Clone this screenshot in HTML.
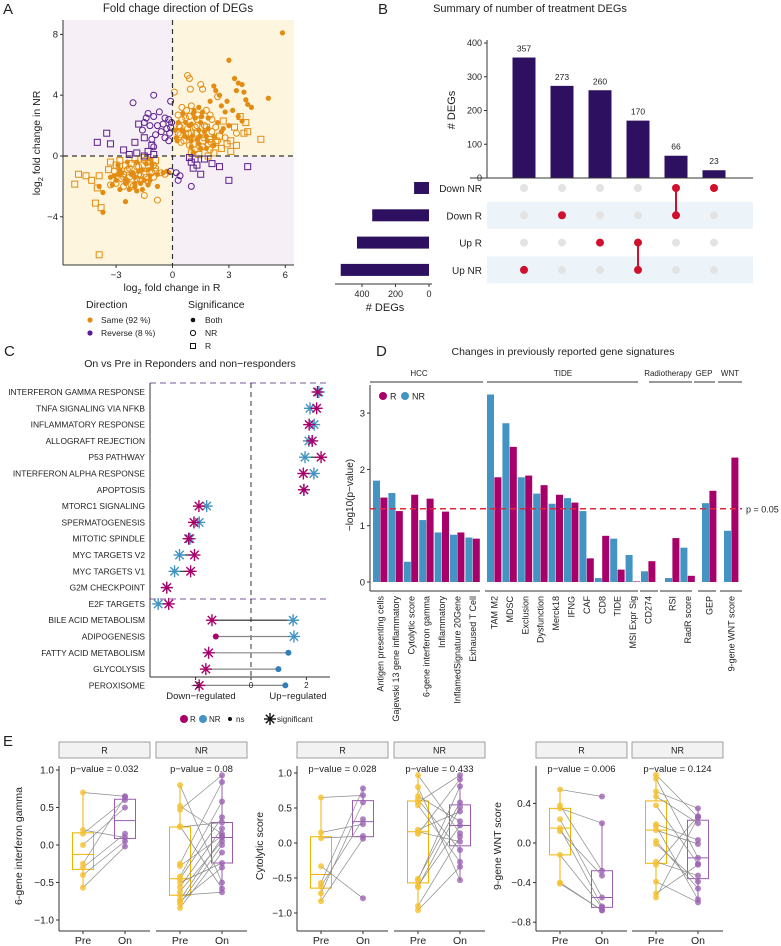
<!DOCTYPE html>
<html><head><meta charset="utf-8">
<style>
body{margin:0;background:#fff;}
svg{display:block;font-family:"Liberation Sans",Arial,sans-serif;}
text{fill:#222;}
</style></head>
<body>
<svg id="root" width="781" height="946" viewBox="0 0 781 946" xmlns="http://www.w3.org/2000/svg"></svg>
<script>
// ---------------- DATA ----------------
const sameFilled = "5.85,8.1;3.0,6.3;5.1,3.8;3.3,5.1;3.5,4.8;3.7,4.7;3.4,4.3;3.8,4.2;4.0,3.4;4.2,3.2;3.9,3.7;2.9,3.6;2.2,4.6;2.3,4.3;2.5,4.0;2.0,3.6;2.6,3.3;3.2,3.0;3.7,2.3;3.5,2.6;2.8,2.9;1.4,3.2;1.6,2.9;1.9,2.5;2.4,2.2;2.7,1.8;3.0,2.0;1.2,2.5;0.9,2.0;0.5,1.7;1.7,1.6;2.2,1.3;1.3,1.1;0.8,1.2;1.5,0.5;1.1,0.2;-3.7,-3.7;-2.5,-3.0;-3.7,-2.4;-3.9,-2.0;-3.2,-1.9;-2.8,-2.2;-2.3,-2.2;-1.9,-2.3;-1.6,-2.2;-0.8,-2.0;-1.5,-1.6;-2.0,-1.8;-2.5,-1.5;-3.0,-1.6;-1.2,-1.3;-0.5,-1.1;-0.2,-1.1;-2.2,-1.2;-1.8,-1.0;-1.1,-0.8;-1.4,-0.5;-2.7,-1.1;-3.3,-1.4;0.2,1.2;0.6,1.6;1.0,2.1;1.4,1.7;1.8,1.3;0.3,2.2;0.7,2.2;1.1,2.8;1.5,2.2;1.9,1.8;0.25,1.0;0.65,1.3;1.05,1.3;1.45,1.3;1.85,1.0;1.0,0.6;1.4,0.8;1.8,0.5;2.2,0.7;2.6,1.6;1.0,1.0;0.15,1.7;0.55,2.8;1.15,3.0;1.55,2.6;-2.9,-1.2;-2.5,-1.8;-2.1,-1.1;-1.7,-1.8;-1.3,-0.9;-2.8,-0.9;-2.4,-1.6;-2.0,-1.4;-1.6,-0.9;-1.2,-1.6;-3.1,-1.3;-2.9,-0.6;-1.9,-0.4;-1.2,-0.2;-0.8,-1.2;-0.3,-1.0;-2.0,-2.0;-1.3,-1.9;-2.4,-0.4;-1.1,-0.5";
const sameOpen = "0.8,5.3;0.9,5.1;1.5,4.7;0.95,4.4;1.6,4.4;0.1,4.2;2.4,3.9;0.5,3.2;1.0,3.3;1.8,3.0;0.3,2.7;0.7,2.5;1.3,2.0;2.1,2.4;3.4,1.5;2.8,1.2;0.3,1.5;0.6,1.0;1.9,0.8;0.4,1.9;-1.5,-2.6;-0.8,-2.9;-2.1,-2.0;-1.3,-1.7;-2.6,-1.4;-1.7,-1.3;-0.9,-1.0;-0.4,-1.2;-1.9,-0.7;-3.1,-1.0;-2.4,-0.9;0.4,1.4;0.8,1.8;1.2,1.9;1.6,1.5;2.0,1.1;0.5,2.4;0.9,2.6;1.3,2.4;1.7,2.0;2.1,1.6;0.45,0.9;0.85,1.5;1.25,1.5;1.65,1.2;2.05,0.9;1.2,0.4;1.6,0.6;2.0,0.4;2.4,1.0;2.3,1.9;0.9,0.7;0.35,2.0;0.75,3.0;1.35,2.7;2.0,2.7;-2.7,-1.5;-2.3,-1.4;-1.9,-1.5;-1.5,-1.2;-1.1,-1.1;-2.6,-1.2;-2.2,-1.9;-1.8,-1.2;-1.4,-1.4;-1.0,-1.4;-3.0,-1.8;-2.3,-0.8;-1.5,-0.3;-1.0,-0.6;-0.6,-1.1;-2.6,-2.0;-1.7,-1.6;-3.3,-1.9;-1.8,-0.7;-0.9,-0.8";
const sameSquare = "-5.2,-1.85;-4.0,-2.1;-4.1,-3.1;-3.8,-3.4;-3.9,-6.5;-5.0,-1.2;-4.6,-1.3;-4.3,-1.6;-3.9,-1.3;-3.3,-0.4;-3.0,-0.6;-3.4,-0.9;-2.8,-0.3;-2.5,-0.6;-2.0,-0.2;-1.5,-0.1;-1.2,-0.4;-2.2,-0.5;-0.9,-0.3;-1.6,-0.6;4.7,1.1;3.8,1.5;3.9,2.2;3.6,2.6;4.0,1.6;3.1,1.0;3.4,0.7;3.1,0.3;2.6,0.5;2.2,0.2;1.9,0.0;1.4,0.1;1.0,0.2;2.3,0.9;2.9,0.8;2.5,1.3;1.6,1.0;1.1,0.8;3.3,1.9;2.7,2.3;1.8,1.9;1.0,1.5";
const revOpen = "-1.0,4.0;-2.1,3.5;-0.1,3.6;-1.3,2.8;-1.0,2.6;-0.7,2.9;-0.4,2.5;-1.4,2.5;-1.5,2.2;-1.2,2.0;-0.8,2.0;-0.5,2.1;-0.2,2.4;-0.3,1.8;-0.1,1.9;-0.6,1.6;-0.9,1.4;-0.4,1.2;-1.6,1.7;-0.2,1.0;-0.05,2.2;-0.15,1.5;-1.1,1.1;0.2,-1.1;0.3,-1.6;0.4,-1.3;1.0,-2.0;-0.1,-1.0;-1.0,0.6";
const revSquare = "-1.8,2.1;-3.5,1.5;-4.0,0.9;-3.3,0.8;-2.6,0.4;-2.0,0.9;-1.5,1.2;-1.1,0.7;-1.3,0.3;-2.3,0.1;-1.9,0.2;-1.0,0.1;-1.5,0.0;1.0,-0.4;1.1,-0.8;1.5,-1.2;1.3,-0.6;2.1,-0.5;2.5,-0.7;3.0,-1.6;4.0,-0.7;1.2,-0.2;0.9,-0.1;1.7,-0.2";
const aTicksX = [-3, 0, 3, 6];
const aTicksY = [-4, 0, 4, 8];

const setNames = ["Down NR", "Down R", "Up R", "Up NR"];
const setSizes = [89, 339, 430, 527];
const interCounts = [357, 273, 260, 170, 66, 23];
const interSets = [[3], [1], [2], [2, 3], [0, 1], [0]];
const bTicks = [0, 100, 200, 300, 400];
const bSetTicks = [0, 200, 400];

const pathways = ["INTERFERON GAMMA RESPONSE","TNFA SIGNALING VIA NFKB","INFLAMMATORY RESPONSE","ALLOGRAFT REJECTION","P53 PATHWAY","INTERFERON ALPHA RESPONSE","APOPTOSIS","MTORC1 SIGNALING","SPERMATOGENESIS","MITOTIC SPINDLE","MYC TARGETS V2","MYC TARGETS V1","G2M CHECKPOINT","E2F TARGETS","BILE ACID METABOLISM","ADIPOGENESIS","FATTY ACID METABOLISM","GLYCOLYSIS","PEROXISOME"];
const nesR  = [2.4,2.37,2.1,2.21,2.53,1.89,1.91,-1.88,-2.06,-2.25,-2.04,-2.18,-3.04,-2.97,-1.41,-1.27,-1.53,-1.63,-1.87];
const nesNR = [2.45,2.13,2.28,2.09,1.95,2.27,1.91,-1.6,-1.87,-2.2,-2.58,-2.76,-3.04,-3.35,1.52,1.55,1.35,0.99,1.24];
const sigR  = [1,1,1,1,1,1,1,1,1,1,1,1,1,1,1,0,1,1,1];
const sigNR = [1,1,1,1,1,1,1,1,1,1,1,1,1,1,1,1,0,0,0];
const cTicks = [-2, 0, 2];

const sigLabels = ["Antigen presenting cells","Gajewski 13 gene inflammatory","Cytolytic score","6-gene interferon gamma","Inflammatory","InflamedSignature 20Gene","Exhaused T Cell","TAM M2","MDSC","Exclusion","Dysfunction","Merck18","IFNG","CAF","CD8","TIDE","MSI Expr Sig","CD274","RSI","RadR score","GEP","9-gene WNT score"];
const sigGroup  = [0,0,0,0,0,0,0,1,1,1,1,1,1,1,1,1,1,1,2,2,3,4];
const pNR = [1.8,1.58,0.36,1.1,0.88,0.84,0.79,3.33,2.82,1.86,1.57,1.39,1.49,1.26,0.07,0.77,0.48,0.19,0.07,0.61,1.40,0.91];
const pR  = [1.5,1.26,1.55,1.48,1.25,0.88,0.77,1.86,2.40,1.89,1.72,1.55,1.41,0.42,0.82,0.22,0.01,0.37,0.78,0.11,1.62,2.21];
const dTicks = [0, 1, 2, 3];
const pThresh = 1.301;

const e1RPre = [0.7,0.2,0.15,0.0,-0.25,-0.3,-0.4,-0.57];
const e1ROn  = [0.65,0.1,0.6,0.5,0.64,0.15,0.05,-0.02];
const e1NRPre = [0.8,0.52,0.47,0.25,0.24,-0.25,-0.28,-0.42,-0.45,-0.5,-0.56,-0.62,-0.67,-0.73,-0.75,-0.78,-0.84];
const e1NROn  = [-0.5,0.15,0.93,-0.58,0.3,0.84,0.12,0.58,0.37,-0.24,0.22,0.05,-0.63,0.1,-0.3,0.0,-0.1];
const e2RPre = [0.65,0.15,0.07,-0.33,-0.57,-0.62,-0.72,-0.83];
const e2ROn  = [0.68,0.27,0.1,-0.79,0.78,0.34,0.58,0.06];
const e2NRPre = [0.97,0.80,0.67,0.62,0.58,0.54,0.19,0.16,0.13,-0.51,-0.53,-0.61,-0.63,-0.90,-0.96];
const e2NROn  = [0.14,-0.53,0.31,-0.1,0.97,-0.27,0.45,0.02,0.91,0.58,0.81,0.25,0.51,0.09,-0.34];
const e3RPre = [0.54,0.38,0.35,0.24,0.15,0.12,-0.12,-0.40,-0.41];
const e3ROn  = [0.47,-0.28,0.2,-0.55,-0.64,-0.33,-0.65,-0.68,-0.68];
const e3NRPre = [0.69,0.65,0.52,0.47,0.38,0.19,0.17,0.13,0.02,-0.01,-0.19,-0.22,-0.39,-0.51,-0.55];
const e3NROn  = [0.26,-0.15,0.35,0.2,-0.21,0.03,-0.57,-0.01,-0.46,-0.39,-0.33,0.27,-0.6,-0.22,0.26];
const e1Ticks = [1.0, 0.5, 0.0, -0.5, -1.0];
const e3Ticks = [0.4, 0.0, -0.4, -0.8];
const ePvals = ["p−value = 0.032","p−value = 0.08","p−value = 0.028","p−value = 0.433","p−value = 0.006","p−value = 0.124"];

// ---------------- HELPERS ----------------
const NS = "http://www.w3.org/2000/svg";
const S = document.getElementById('root');
function el(tag, a, name, parent) {
  const e = document.createElementNS(NS, tag);
  for (const k in a) e.setAttribute(k, a[k]);
  
  
  (parent || S).appendChild(e);
  return e;
}
function tx(x, y, s, a, name) {
  const e = el('text', Object.assign({x: x, y: y, 'font-size': 9}, a || {}), name);
  e.textContent = s;
  return e;
}
function line(x1, y1, x2, y2, st, w, name, extra) {
  return el('line', Object.assign({x1, y1, x2, y2, stroke: st, 'stroke-width': w}, extra || {}), name);
}
function parsePts(s) { return s.split(';').map(p => p.split(',').map(Number)); }
const fmt = v => (v < 0 ? '−' : '') + Math.abs(v);
const fmt1 = v => (v < 0 ? '−' : '') + Math.abs(v).toFixed(1);

// ---------------- PANEL A ----------------
const ax = v => 172.5 + 18.8 * v;
const ay = v => 156 - 15.2 * v;
const AL = 63, AR = 294, AT = 20, AB = 265;
const ORANGE = "#e38c12", PURPLE = "#5b1e8c";
tx(3, 14, "A", {'font-size': 15}, 'panel-a-label');
tx(178, 12, "Fold chage direction of DEGs", {'font-size': 11.5, 'text-anchor': 'middle'}, 'panel-a-title');
el('rect', {x: AL, y: AT, width: ax(0) - AL, height: ay(0) - AT, fill: '#f7eff6'}, 'quadrant-top-left');
el('rect', {x: ax(0), y: AT, width: AR - ax(0), height: ay(0) - AT, fill: '#fdf5de'}, 'quadrant-top-right');
el('rect', {x: AL, y: ay(0), width: ax(0) - AL, height: AB - ay(0), fill: '#fdf5de'}, 'quadrant-bottom-left');
el('rect', {x: ax(0), y: ay(0), width: AR - ax(0), height: AB - ay(0), fill: '#f7eff6'}, 'quadrant-bottom-right');
function drawA(data, kind, col, name) {
  parsePts(data).forEach(p => {
    const x = ax(p[0]), y = ay(p[1]);
    if (kind === 'filled') el('circle', {cx: x, cy: y, r: 2.6, fill: col}, name);
    else if (kind === 'open') el('circle', {cx: x, cy: y, r: 3, fill: 'none', stroke: col, 'stroke-width': 1}, name);
    else el('rect', {x: x - 3, y: y - 3, width: 6, height: 6, fill: 'none', stroke: col, 'stroke-width': 1}, name);
  });
}
drawA(sameSquare, 'square', ORANGE, 'point-same-r');
drawA(sameOpen, 'open', ORANGE, 'point-same-nr');
drawA(sameFilled, 'filled', ORANGE, 'point-same-both');
drawA(revSquare, 'square', PURPLE, 'point-reverse-r');
drawA(revOpen, 'open', PURPLE, 'point-reverse-nr');
line(ax(0), AT, ax(0), AB, '#333', 1.2, 'zero-line-x', {'stroke-dasharray': '5,4'});
line(AL, ay(0), AR, ay(0), '#333', 1.2, 'zero-line-y', {'stroke-dasharray': '5,4'});
line(AL, AT, AL, AB, '#333', 1, 'a-y-axis');
line(AL, AB, AR, AB, '#333', 1, 'a-x-axis');
aTicksX.forEach(v => { line(ax(v), AB, ax(v), AB + 3, '#333', 1, 'a-x-tick'); tx(ax(v), AB + 13, fmt(v), {'text-anchor': 'middle', 'font-size': 9.5, fill: '#444'}, 'a-x-tick-label'); });
aTicksY.forEach(v => { line(AL - 3, ay(v), AL, ay(v), '#333', 1, 'a-y-tick'); tx(AL - 5, ay(v) + 3, fmt(v), {'text-anchor': 'end', 'font-size': 9.5, fill: '#444'}, 'a-y-tick-label'); });
(function () {
  const t = tx(172, 291, "", {'text-anchor': 'middle', 'font-size': 10.5}, 'a-x-axis-title');
  t.innerHTML = 'log<tspan font-size="7.5" dy="3">2</tspan><tspan dy="-3"> fold change in R</tspan>';
  const t2 = tx(0, 0, "", {'text-anchor': 'middle', 'font-size': 10.5, transform: 'translate(40,143) rotate(-90)'}, 'a-y-axis-title');
  t2.innerHTML = 'log<tspan font-size="7.5" dy="3">2</tspan><tspan dy="-3"> fold change in NR</tspan>';
})();
tx(86, 308, "Direction", {'font-size': 10.5}, 'legend-direction-title');
el('circle', {cx: 90, cy: 320, r: 2.6, fill: ORANGE}, 'legend-same-key');
tx(101, 323, "Same (92 %)", {'font-size': 8.5}, 'legend-same');
el('circle', {cx: 90, cy: 333, r: 2.6, fill: PURPLE}, 'legend-reverse-key');
tx(101, 336, "Reverse (8 %)", {'font-size': 8.5}, 'legend-reverse');
tx(188, 308, "Significance", {'font-size': 10.5}, 'legend-significance-title');
el('circle', {cx: 193, cy: 320, r: 2.3, fill: '#111'}, 'legend-both-key');
tx(205, 323, "Both", {'font-size': 8.5}, 'legend-both');
el('circle', {cx: 193, cy: 333, r: 2.6, fill: 'none', stroke: '#111'}, 'legend-nr-key');
tx(205, 336, "NR", {'font-size': 8.5}, 'legend-nr');
el('rect', {x: 190.5, y: 343.5, width: 5, height: 5, fill: 'none', stroke: '#111'}, 'legend-r-key');
tx(205, 349, "R", {'font-size': 8.5}, 'legend-r');

// ---------------- PANEL B ----------------
const BX0 = 487, BY0 = 178;
const by = v => BY0 - 0.3375 * v;
const bcx = i => 524 + 38 * i;
const rowY = i => 188 + 27.3 * i;
const bsx = v => 429 - 0.1675 * v;
const BAR = "#2d1160";
tx(378, 14, "B", {'font-size': 15}, 'panel-b-label');
tx(530, 12, "Summary of number of treatment DEGs", {'font-size': 11, 'text-anchor': 'middle'}, 'panel-b-title');
[1, 3].forEach(i => el('rect', {x: BX0, y: rowY(i) - 13.5, width: 266, height: 27, fill: '#edf4f9'}, 'matrix-row-band'));
interCounts.forEach((c, i) => {
  el('rect', {x: bcx(i) - 11.5, y: by(c), width: 23, height: BY0 - by(c), fill: BAR}, 'intersection-bar');
  tx(bcx(i), by(c) - 6, String(c), {'text-anchor': 'middle', 'font-size': 8.5, fill: '#4b3b80'}, 'intersection-count');
});
line(BX0, 40, BX0, BY0, '#333', 1, 'b-y-axis');
line(BX0 - 17, BY0, 753, BY0, '#333', 1, 'b-x-axis');
bTicks.forEach(v => { line(BX0 - 3, by(v), BX0, by(v), '#333', 1, 'b-y-tick'); tx(BX0 - 5, by(v) + 3, String(v), {'text-anchor': 'end', 'font-size': 9, fill: '#333'}, 'b-y-tick-label'); });
tx(0, 0, "# DEGs", {'font-size': 11, 'text-anchor': 'middle', transform: 'translate(455,110) rotate(-90)'}, 'b-y-axis-title');
interSets.forEach((sets, i) => {
  setNames.forEach((n, r) => { if (sets.indexOf(r) < 0) el('circle', {cx: bcx(i), cy: rowY(r), r: 4, fill: '#e3e3e3'}, 'matrix-dot-inactive'); });
  if (sets.length > 1) line(bcx(i), rowY(Math.min(...sets)), bcx(i), rowY(Math.max(...sets)), '#d0102c', 2, 'matrix-connector');
  sets.forEach(r => el('circle', {cx: bcx(i), cy: rowY(r), r: 4, fill: '#d0102c'}, 'matrix-dot-active'));
});
setNames.forEach((n, r) => {
  tx(482, rowY(r) + 4, n, {'text-anchor': 'end', 'font-size': 10}, 'set-label');
  el('rect', {x: bsx(setSizes[r]), y: rowY(r) - 6, width: 429 - bsx(setSizes[r]), height: 12, fill: BAR}, 'set-size-bar');
});
line(335, 284, 432, 284, '#333', 1, 'set-size-axis');
bSetTicks.forEach(v => { line(bsx(v), 284, bsx(v), 287, '#333', 1, 'set-size-tick'); tx(bsx(v), 297, String(v), {'text-anchor': 'middle', 'font-size': 9, fill: '#333'}, 'set-size-tick-label'); });
tx(385, 311, "# DEGs", {'font-size': 11, 'text-anchor': 'middle'}, 'set-size-axis-title');

// ---------------- PANEL C ----------------
const cx = v => 251 + 27.7 * v;
const cy = i => 392 + 16.3 * i;
const MAG = "#a8006a", BLUE = "#4393c3";
tx(4, 356, "C", {'font-size': 15}, 'panel-c-label');
tx(190, 367, "On vs Pre in Reponders and non−responders", {'font-size': 10.5, 'text-anchor': 'middle'}, 'panel-c-title');
line(150, 383, 330, 383, '#7a5a9e', 1, 'c-divider-top', {'stroke-dasharray': '6,4'});
line(150, 599, 330, 599, '#7a5a9e', 1, 'c-divider-mid', {'stroke-dasharray': '6,4'});
line(cx(0), 383, cx(0), 677, '#333', 1, 'c-zero-line', {'stroke-dasharray': '5,4'});
function star(x, y, col, name) {
  const g = el('g', {stroke: col, 'stroke-width': 1.4}, name);
  [[0, 6], [6, 0], [4.2, 4.2], [4.2, -4.2]].forEach(d => {
    el('line', {x1: x - d[0], y1: y - d[1], x2: x + d[0], y2: y + d[1]}, 'star-stroke', g);
  });
  el('circle', {cx: x, cy: y, r: 1.6, fill: col, stroke: 'none'}, 'star-center', g);
}
pathways.forEach((p, i) => {
  const y = cy(i);
  tx(145, y + 3, p, {'text-anchor': 'end', 'font-size': 8.4, fill: '#333'}, 'pathway-label');
  line(cx(nesR[i]), y, cx(nesNR[i]), y, (sigR[i] && sigNR[i]) ? '#222' : '#888', 1.2, 'pathway-segment');
  if (sigNR[i]) star(cx(nesNR[i]), y, BLUE, 'nes-nr-significant'); else el('circle', {cx: cx(nesNR[i]), cy: y, r: 3, fill: '#2f7fb8'}, 'nes-nr-ns');
  if (sigR[i]) star(cx(nesR[i]), y, MAG, 'nes-r-significant'); else el('circle', {cx: cx(nesR[i]), cy: y, r: 3, fill: MAG}, 'nes-r-ns');
});
line(150, 383, 150, 677, '#333', 1, 'c-y-axis');
line(150, 677, 330, 677, '#333', 1, 'c-x-axis');
cTicks.forEach(v => { line(cx(v), 677, cx(v), 680, '#333', 1, 'c-x-tick'); tx(cx(v), 688, fmt(v), {'text-anchor': 'middle', 'font-size': 8, fill: '#333'}, 'c-x-tick-label'); });
tx(201, 699, "Down−regulated", {'text-anchor': 'middle', 'font-size': 9.5}, 'down-regulated-label');
tx(298, 699, "Up−regulated", {'text-anchor': 'middle', 'font-size': 9.5}, 'up-regulated-label');
el('circle', {cx: 184, cy: 719, r: 4, fill: MAG}, 'c-legend-r-key');
tx(190, 722, "R", {'font-size': 8}, 'c-legend-r');
el('circle', {cx: 203, cy: 719, r: 4, fill: BLUE}, 'c-legend-nr-key');
tx(209, 722, "NR", {'font-size': 8}, 'c-legend-nr');
el('circle', {cx: 230, cy: 719, r: 2, fill: '#111'}, 'c-legend-ns-key');
tx(236, 722, "ns", {'font-size': 8}, 'c-legend-ns');
star(270, 719, '#111', 'c-legend-significant-key');
tx(277, 722, "significant", {'font-size': 8}, 'c-legend-significant');

// ---------------- PANEL D ----------------
const dy = v => 582 - 56.3 * v;
const groupStart = [373, 487, 665, 702, 724];
const STEP = 15.4;
function dx(i) {
  const g = sigGroup[i];
  const first = sigGroup.indexOf(g);
  return groupStart[g] + (i - first) * STEP;
}
tx(376, 356, "D", {'font-size': 15}, 'panel-d-label');
tx(563, 355, "Changes in previously reported gene signatures", {'font-size': 10.5, 'text-anchor': 'middle'}, 'panel-d-title');
const groupNames = ["HCC", "TIDE", "Radiotherapy", "GEP", "WNT"];
const headerSpans = [[370, 483], [487, 638], [649, 692], [694, 715], [718, 742]];
const headerX = [419, 563, 668, 704, 730];
groupNames.forEach((g, k) => {
  tx(headerX[k], 376, g, {'text-anchor': 'middle', 'font-size': 8, fill: '#333'}, 'signature-group-header');
  line(headerSpans[k][0], 382, headerSpans[k][1], 382, '#333', 1, 'signature-group-line');
});
sigLabels.forEach((s, i) => {
  const x = dx(i);
  el('rect', {x: x, y: dy(pNR[i]), width: 7, height: 582 - dy(pNR[i]), fill: BLUE}, 'bar-nr');
  el('rect', {x: x + 7.4, y: dy(pR[i]), width: 7, height: 582 - dy(pR[i]), fill: MAG}, 'bar-r');
  tx(0, 0, s, {'text-anchor': 'end', 'font-size': 9, transform: 'translate(' + (x + 10.5) + ',596) rotate(-90)'}, 'signature-label');
});
const bottomSpans = [[370, 480], [485, 638], [640, 658], [660, 692], [698, 716], [720, 742]];
bottomSpans.forEach(s => line(s[0], 591, s[1], 591, '#333', 1, 'd-x-axis-segment'));
line(370, 385, 370, 591, '#333', 1, 'd-y-axis');
dTicks.forEach(v => { line(367, dy(v), 370, dy(v), '#333', 1, 'd-y-tick'); tx(365, dy(v) + 3.5, String(v), {'text-anchor': 'end', 'font-size': 9.5, fill: '#333'}, 'd-y-tick-label'); });
tx(0, 0, "−log10(p−value)", {'font-size': 10, 'text-anchor': 'middle', transform: 'translate(353,495) rotate(-90)'}, 'd-y-axis-title');
line(370, dy(pThresh), 742, dy(pThresh), '#e0283c', 1.6, 'significance-threshold', {'stroke-dasharray': '6,4'});
tx(746, dy(pThresh) + 3.5, "p = 0.05", {'font-size': 9, fill: '#333'}, 'threshold-label');
el('circle', {cx: 383, cy: 396, r: 4, fill: MAG}, 'd-legend-r-key');
tx(390, 399.5, "R", {'font-size': 9}, 'd-legend-r');
el('circle', {cx: 405, cy: 396, r: 4, fill: BLUE}, 'd-legend-nr-key');
tx(412, 399.5, "NR", {'font-size': 9}, 'd-legend-nr');

// ---------------- PANEL E ----------------
tx(3, 746, "E", {'font-size': 15}, 'panel-e-label');
function q(arr, p) {
  const s = arr.slice().sort((a, b) => a - b);
  const h = (s.length - 1) * p, lo = Math.floor(h);
  return s[lo] + (s[Math.min(lo + 1, s.length - 1)] - s[lo]) * (h - lo);
}
function box(xc, vals, yf, col, name) {
  const q1 = q(vals, .25), q2 = q(vals, .5), q3 = q(vals, .75), iqr = q3 - q1;
  const inr = vals.filter(v => v >= q1 - 1.5 * iqr && v <= q3 + 1.5 * iqr);
  const lo = Math.min(...inr), hi = Math.max(...inr);
  line(xc, yf(hi), xc, yf(q3), col, 1, name + '-whisker');
  line(xc, yf(q1), xc, yf(lo), col, 1, name + '-whisker');
  el('rect', {x: xc - 10.5, y: yf(q3), width: 21, height: yf(q1) - yf(q3), fill: 'none', stroke: col, 'stroke-width': 1}, name + '-box');
  line(xc - 10.5, yf(q2), xc + 10.5, yf(q2), col, 1, name + '-median');
}
function facet(x0, strip, pv, pre, on, yf, name) {
  el('rect', {x: x0, y: 742, width: 91, height: 16, fill: '#f2f2f2', stroke: '#888', 'stroke-width': 0.8}, name + '-strip');
  tx(x0 + 45.5, 753.5, strip, {'text-anchor': 'middle', 'font-size': 9}, name + '-strip-label');
  tx(x0 + 45.5, 772, pv, {'text-anchor': 'middle', 'font-size': 9.5}, name + '-p-value');
  const xp = x0 + 24, xo = x0 + 66;
  box(xp, pre, yf, '#f1b300', name + '-pre');
  box(xo, on, yf, '#9a5cb0', name + '-on');
  for (let i = 0; i < Math.min(pre.length, on.length); i++) line(xp, yf(pre[i]), xo, yf(on[i]), '#8a8a8a', 0.7, name + '-pair-line');
  pre.forEach(v => el('circle', {cx: xp, cy: yf(v), r: 3, fill: '#f5c02e', 'fill-opacity': 0.8}, name + '-pre-point'));
  on.forEach(v => el('circle', {cx: xo, cy: yf(v), r: 3, fill: '#9c63b4', 'fill-opacity': 0.8}, name + '-on-point'));
  line(x0, 931, x0 + 91, 931, '#333', 1, name + '-x-axis');
  [[xp, 'Pre'], [xo, 'On']].forEach(d => { line(d[0], 931, d[0], 934, '#333', 1, name + '-x-tick'); tx(d[0], 944, d[1], {'text-anchor': 'middle', 'font-size': 10.5}, name + '-x-label'); });
}
function yaxis(x, ticks, yf, title, ttx, name, f) {
  line(x, 766, x, 931, '#333', 1, name + '-y-axis');
  ticks.forEach(v => { line(x - 3, yf(v), x, yf(v), '#333', 1, name + '-y-tick'); tx(x - 5, yf(v) + 3.5, f(v), {'text-anchor': 'end', 'font-size': 10, fill: '#333'}, name + '-y-tick-label'); });
  tx(0, 0, title, {'text-anchor': 'middle', 'font-size': 10.5, transform: 'translate(' + ttx + ',846) rotate(-90)'}, name + '-y-axis-title');
}
const ey1 = v => 845 - 75 * v;
const ey2 = v => 843 - 70 * v;
const ey3 = v => 843 - 99 * v;
yaxis(59, e1Ticks, ey1, "6-gene interferon gamma", 22, 'ifng', fmt1);
facet(59, "R", ePvals[0], e1RPre, e1ROn, ey1, 'ifng-r');
facet(156, "NR", ePvals[1], e1NRPre, e1NROn, ey1, 'ifng-nr');
yaxis(297, e1Ticks, ey2, "Cytolytic score", 263, 'cyt', fmt1);
facet(297, "R", ePvals[2], e2RPre, e2ROn, ey2, 'cyt-r');
facet(394, "NR", ePvals[3], e2NRPre, e2NROn, ey2, 'cyt-nr');
yaxis(536, e3Ticks, ey3, "9-gene WNT score", 501, 'wnt', fmt1);
facet(536, "R", ePvals[4], e3RPre, e3ROn, ey3, 'wnt-r');
facet(632, "NR", ePvals[5], e3NRPre, e3NROn, ey3, 'wnt-nr');
</script>
</body></html>
